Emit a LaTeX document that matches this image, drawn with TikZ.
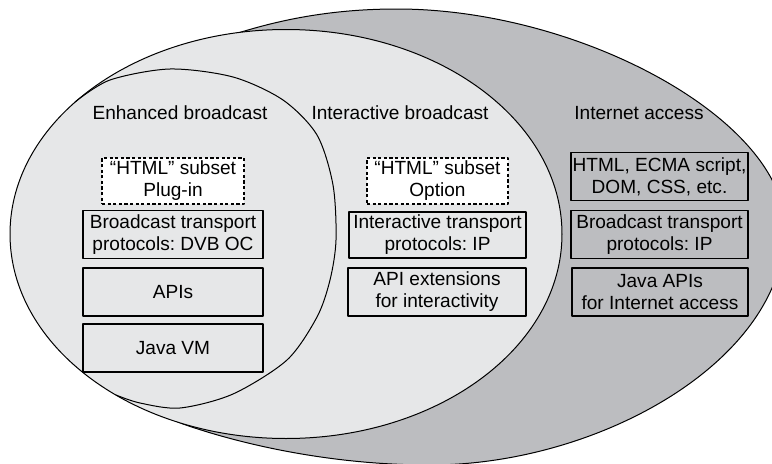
\documentclass[tikz,border=0pt]{standalone}
\usepackage{fontspec}
\setmainfont{Liberation Sans}
\usepackage{tikz}
\frenchspacing
\definecolor{bclight}{RGB}{230,231,232}
\definecolor{bcdark}{RGB}{188,189,192}
\tikzset{
	txt/.style={font=\fontsize{14.3}{16.5}\selectfont},
	layer/.style={txt, draw, line width=0.9pt, inner sep=0pt, align=center, minimum height=35.5pt},
	dashlayer/.style={layer, fill=white, dash pattern=on 2.4pt off 1.8pt}
}

\begin{document}
\begin{tikzpicture}[x=0.75pt, y=-0.75pt, line join=round]
	\useasboundingbox (0,0) rectangle (772,464);
	\clip (0,0) rectangle (772,464);
	% internet access
	\draw[fill=bcdark, line width=0.75pt] (240,32.4) .. controls (290,17) and (340,9) .. (397,9)
		.. controls (580,9) and (785,120) .. (785,228)
		.. controls (785,360) and (600,465) .. (430,465)
		.. controls (330,465) and (240,444) .. (183,424)
		.. controls (100,395) and (100,100) .. cycle;
	% interactive broadcast
	\draw[fill=bclight, line width=0.75pt] (286,234) ellipse [x radius=276, y radius=204.5];
	% enhanced broadcast
	\draw[line width=0.75pt] plot[smooth] coordinates {
		(75,102) (110,80) (170,69) (233,77) (283,100) (317,135) (333,185) (336,240)
		(330,280) (317,317) (287,360) (233,394) (180,408) (140,403) (116,395)};

	\node[txt] (tenh) at (180,113) {Enhanced broadcast};
	\node[txt] (tint) at (400,113) {Interactive broadcast};
	\node[txt] (tnet) at (639,113) {Internet access};

	\node[dashlayer, minimum width=106.5pt, minimum height=34.5pt] (enhhtml) at (173,181) {“HTML” subset\\Plug-in};
	\node[layer, fill=bclight, minimum width=135pt] (enhprot) at (173,234.5) {Broadcast transport\\protocols: DVB OC};
	\node[layer, fill=bclight, minimum width=135pt, minimum height=36pt] (enhapi) at (173,292) {APIs};
	\node[layer, fill=bclight, minimum width=135pt, minimum height=36pt] (enhjvm) at (173,348) {Java VM};

	\node[dashlayer, minimum width=105.75pt, minimum height=34.5pt] (inthtml) at (437.5,181) {“HTML” subset\\Option};
	\node[layer, fill=bclight, minimum width=132.75pt, minimum height=34.5pt] (intprot) at (437.5,235) {Interactive transport\\protocols: IP};
	\node[layer, fill=bclight, minimum width=133.5pt, minimum height=36pt] (intapi) at (437,292) {API extensions\\for interactivity};

	\node[layer, fill=bcdark, minimum width=132.75pt] (nethtml) at (659.5,176.5) {HTML, ECMA script,\\DOM, CSS, etc.};
	\node[layer, fill=bcdark, minimum width=132.75pt] (netprot) at (659.5,234.5) {Broadcast transport\\protocols: IP};
	\node[layer, fill=bcdark, minimum width=132pt, minimum height=36pt] (netapi) at (660,292) {Java APIs\\for Internet access};
\end{tikzpicture}
\end{document}
